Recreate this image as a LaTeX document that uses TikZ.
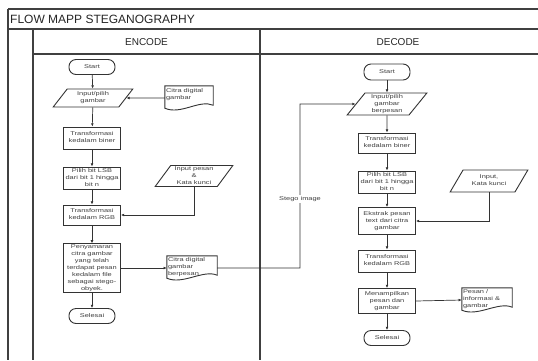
\documentclass[tikz,border=0pt]{standalone}
\usepackage{fontspec}
\setmainfont{Liberation Sans}
\usepackage{graphicx}
\usetikzlibrary{shapes.geometric,arrows.meta}

\newcommand{\wt}[1]{{\fontsize{5.5}{6.9}\selectfont\color{black!75}\scalebox{1.35}[1]{\begin{tabular}{@{}c@{}}#1\end{tabular}}}}
\newcommand{\wl}[1]{{\fontsize{5.5}{6.9}\selectfont\color{black!75}\scalebox{1.35}[1]{\begin{tabular}{@{}l@{}}#1\end{tabular}}}}
\newcommand{\docoutline}[1]{%
  \draw[docline] (#1.north west) -- (#1.north east) -- ([yshift=5pt]#1.south east)
    .. controls ([xshift=-14pt,yshift=11pt]#1.south east) and ([xshift=16pt,yshift=-5pt]#1.south west)
    .. ([yshift=2pt]#1.south west) -- cycle;}

\begin{document}
\begin{tikzpicture}[x=1pt,y=-1pt,
  proc/.style={draw=black!80, line width=0.9pt, rectangle, minimum width=57pt, inner sep=0pt, fill=white},
  term/.style={draw=black!80, line width=0.9pt, rectangle, rounded corners=7pt, minimum width=46pt, minimum height=15pt, inner sep=0pt},
  io/.style={draw=black!80, line width=0.9pt, trapezium, trapezium left angle=58, trapezium right angle=122, trapezium stretches=true, inner sep=0pt},
  docbox/.style={rectangle, inner sep=0pt},
  docline/.style={draw=black!80, line width=0.9pt},
  doctext/.style={inner sep=0pt, anchor=north west},
  conn/.style={draw=black!80, line width=0.7pt, -{Latex[length=3.2pt,width=2.8pt]}},
  frame/.style={draw=black!75, line width=1.3pt},
  hdr/.style={inner sep=0pt, font=\fontsize{10}{12}\selectfont, text=black!85}
]
\useasboundingbox (0,0) rectangle (538,360);
\fill[white] (0,0) rectangle (538,360);

% frame
\draw[frame] (8,9) -- (538,9);
\draw[frame] (8,29) -- (538,29);
\draw[frame] (33,54) -- (538,54);
\draw[frame] (8,9) -- (8,360);
\draw[frame] (33,29) -- (33,360);
\draw[frame] (260,29) -- (260,360);

\node[inner sep=0pt, anchor=west, font=\fontsize{12}{14}\selectfont, text=black!85] (title) at (10,19) {FLOW MAPP STEGANOGRAPHY};
\node[hdr] (henc) at (146.5,42) {ENCODE};
\node[hdr] (hdec) at (398,42) {DECODE};

% ENCODE
\node[term] (es) at (92,67) {\wt{Start}};
\node[io, minimum width=80pt, minimum height=18pt] (ein) at (93,98) {\wt{Input/pilih\\gambar}};
\node[docbox, minimum width=48pt, minimum height=24pt] (ed1) at (189,98) {};
\docoutline{ed1}
\node[doctext] (ed1t) at ([xshift=1pt,yshift=-1.5pt]ed1.north west) {\wl{Citra digital\\gambar}};
\node[proc, minimum height=22pt] (ebin) at (92,138) {\wt{Transformasi\\kedalam biner}};
\node[proc, minimum height=22pt] (elsb) at (92,178) {\wt{Pilih bit LSB\\dari bit 1 hingga\\bit n}};
\node[io, minimum width=78pt, minimum height=21pt] (einp) at (194,176) {\wt{Input pesan\\\&\\Kata kunci}};
\node[proc, minimum height=20pt] (ergb) at (92,215) {\wt{Transformasi\\kedalam RGB}};
\node[proc, minimum height=48pt] (epen) at (92,268) {\wt{Penyamaran\\citra gambar\\yang telah\\terdapat pesan\\kedalam file\\sebagai stego-\\obyek.}};
\node[docbox, minimum width=50pt, minimum height=24pt] (ed2) at (192,268) {};
\docoutline{ed2}
\node[doctext] (ed2t) at ([xshift=1pt,yshift=-1pt]ed2.north west) {\wl{Citra digital\\gambar\\berpesan}};
\node[term] (esel) at (92,316) {\wt{Selesai}};

\draw[conn] (es) -- (ein);
\draw[conn] (ein) -- (ebin);
\draw[conn] (ebin) -- (elsb);
\draw[conn] (elsb) -- (ergb);
\draw[conn] (ergb) -- (epen);
\draw[conn] (epen) -- (esel);
\draw[conn] (ed1.west) -- (ein.east);
\draw[conn] (einp.south) |- (ergb.east);
\draw[conn] (epen.east) -- (ed2.west);

% DECODE
\node[term, minimum height=16pt] (ds) at (387,72) {\wt{Start}};
\node[io, minimum width=80pt, minimum height=22pt] (din) at (387,104) {\wt{Input/pilih\\gambar\\berpesan}};
\node[proc, minimum height=20pt] (dbin) at (387,143) {\wt{Transformasi\\kedalam biner}};
\node[proc, minimum height=22pt] (dlsb) at (387,182) {\wt{Pilih bit LSB\\dari bit 1 hingga\\bit n}};
\node[io, minimum width=78pt, minimum height=22pt] (dkey) at (489,181) {\wt{Input,\\Kata kunci}};
\node[proc, minimum height=27pt] (dext) at (387,221) {\wt{Ekstrak pesan\\text dari citra\\gambar}};
\node[proc, minimum height=22pt] (drgb) at (387,261) {\wt{Transformasi\\kedalam RGB}};
\node[proc, minimum height=25pt] (dshow) at (387,301) {\wt{Menampilkan\\pesan dan\\gambar}};
\node[docbox, minimum width=50pt, minimum height=24pt] (dd) at (487,300) {};
\docoutline{dd}
\node[doctext] (ddt) at ([xshift=1pt,yshift=-1pt]dd.north west) {\wl{Pesan /\\informasi \&\\gambar}};
\node[term] (dsel) at (387,338) {\wt{Selesai}};

\draw[conn] (ds) -- (din);
\draw[conn] (din) -- (dbin);
\draw[conn] (dbin) -- (dlsb);
\draw[conn] (dlsb) -- (dext);
\draw[conn] (dext) -- (drgb);
\draw[conn] (drgb) -- (dshow);
\draw[conn] (dshow) -- (dsel);
\draw[conn] (dshow.east) -- (dd.west);
\draw[conn] (dkey.south) |- (dext.east);

% stego image link
\coordinate (sb1) at (300,268);
\coordinate (sb2) at (300,104);
\draw[conn] (ed2.east) -- (sb1) -- (sb2) -- (din.west);
\node[fill=white, inner sep=0.5pt] (stego) at (300,199) {\wt{Stego image}};
\end{tikzpicture}
\end{document}
